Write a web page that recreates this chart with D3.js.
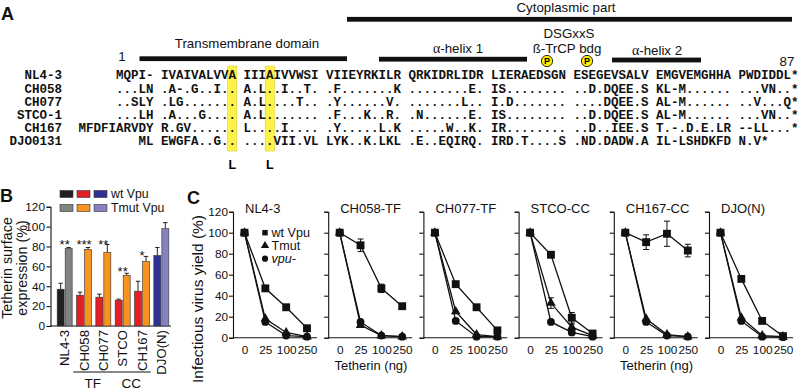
<!DOCTYPE html>
<html>
<head>
<meta charset="utf-8">
<script src="https://cdn.jsdelivr.net/npm/d3@7"></script>
<style>
  body { margin: 0; background: #fff; }
  svg { display: block; }
</style>
</head>
<body>
<svg id="fig" width="800" height="390"></svg>
<script>
/* ── Data ──────────────────────────────────────────────────── */
// Panel A: Vpu alignment, groups of 10 residues
const seqNames = ['NL4-3', 'CH058', 'CH077', 'STCO-1', 'CH167', 'DJO0131'];
const seqNL43   = ['MQPI-', 'IVAIVALVVA', 'IIIAIVVWSI', 'VIIEYRKILR', 'QRKIDRLIDR', 'LIERAEDSGN', 'ESEGEVSALV', 'EMGVEMGHHA', 'PWDIDDL*'];
const seqCH058  = ['...LN', '.A-.G..I..', 'A.L..I..T.', '.F.......K', '........E.', 'IS........', '..D.DQEE.S', 'KL-M......', '...VN..*'];
const seqCH077  = ['..SLY', '.LG.......', 'A.L....T..', '.Y......V.', '.......L..', 'I.D.......', '....DQEE.S', 'AL-M......', '..V...Q*'];
const seqSTCO1  = ['...LH', '.A...G....', 'A.L.......', '.F...K..R.', '.N......E.', 'IS........', '..D.DQEE.S', 'AL-M......', '...VN..*'];
const seqCH167  = ['MFDFIARVDY', 'R.GV......', 'L....I....', '.Y.....L.K', '.....W..K.', 'IR........', '..D..IEE.S', 'T.-.D.E.LR', '--LL...*'];
const seqDJO    = ['ML', 'EWGFA..G..', '....VII.VL', 'LYK..K.LKL', '.E..EQIRQ.', 'IRD.T....S', '.ND.DADW.A', 'IL-LSHDKFD', 'N.V*'];
const seqRows = [seqNL43, seqCH058, seqCH077, seqSTCO1, seqCH167, seqDJO];
const highlightCols = [[1, 9], [2, 3]];   // [group, residue] of the A->L sites

// Panel B: tetherin surface expression (%)
const bCats   = ['NL4-3', 'CH058', 'CH077', 'STCO', 'CH167', 'DJO(N)'];
const bWt     = [37, 31, 29, 26, 35, 71];
const bWtErr  = [6, 3, 3, 1, 10, 8];
const bTmut   = [78, 77, 74, 51, 65, 98];
const bTmutErr = [1, 2, 8, 2, 5, 6];
const bWtColor   = ['#231f20', '#e31e24', '#e31e24', '#e31e24', '#e31e24', '#2e3192'];
const bTmutColor = ['#808285', '#f7931e', '#f7931e', '#f7931e', '#f7931e', '#8682c0'];
const bStars  = ['**', '***', '**', '**', '*', ''];
const bStarAt = [85, 85, 85, 58, 74, 0];
const bTicks  = [0, 20, 40, 60, 80, 100, 120];

// Panel C: infectious virus yield (%) vs tetherin (ng)
const doses  = ['0', '25', '100', '250'];
const cPanels = ['NL4-3', 'CH058-TF', 'CH077-TF', 'STCO-CC', 'CH167-CC', 'DJO(N)'];
const wtYield = [
  [100, 47, 29, 9], [100, 88, 47, 30], [100, 51, 29, 7],
  [100, 79, 19, 4], [100, 91, 99, 83], [100, 56, 16, 1.5]];
const wtErr = [
  [0, 1, 1, 1], [0, 6, 4, 1], [0, 1, 1, 1],
  [0, 1, 5, 1], [0, 7, 12, 6], [0, 1, 1, 0.5]];
const tmutYield = [
  [100, 18, 5, 1], [100, 12, 2, 1], [100, 25, 3, 1],
  [100, 33, 10, 2], [100, 18, 3, 1], [100, 19, 2, 1]];
const tmutErr = [
  [0, 2, 1, 0.5], [0, 1, 0.5, 0.5], [0, 2, 1, 0.5],
  [0, 5, 3, 1], [0, 1, 1, 0.5], [0, 1, 0.5, 0.5]];
const vpuYield = [
  [100, 15, 2, 1], [100, 15, 2, 1], [100, 16, 1, 1],
  [100, 15, 5, 1], [100, 15, 2, 1], [100, 16, 1, 0.5]];
const cTicks = [0, 20, 40, 60, 80, 100, 120];

/* ── Setup ─────────────────────────────────────────────────── */
const SANS = '"Liberation Sans", Arial, sans-serif';
const MONO = '"Liberation Mono", "Courier New", monospace';
const svg = d3.select('#fig');

function label(x, y, txt, size, opts = {}) {
  return svg.append('text')
    .attr('x', x).attr('y', y)
    .attr('font-family', opts.family || SANS)
    .attr('font-size', size)
    .attr('font-weight', opts.weight || 'normal')
    .attr('text-anchor', opts.anchor || 'start')
    .attr('fill', '#111')
    .text(txt);
}

/* ── Panel A ───────────────────────────────────────────────── */
label(1, 20, 'A', 18, { weight: 'bold' });

const CW = 7.5;
const colX = d3.scaleLinear().domain([0, 1]).range([161 - 11 * CW, 161 - 10 * CW]);
const rowY = d3.scaleLinear().domain([0, 1]).range([75, 88.2]);

// domain bars
const bars = [[347, 792, 19.3], [139.5, 347, 58.7], [379, 527, 59.2], [612, 701, 60]];
svg.append('g').selectAll('rect').data(bars).join('rect')
  .attr('x', d => d[0]).attr('width', d => d[1] - d[0])
  .attr('y', d => d[2] - 2.4).attr('height', 4.8)
  .attr('fill', '#111');

const AF = 13.3;
label(566, 11.5, 'Cytoplasmic part', AF, { anchor: 'middle' });
label(247, 48, 'Transmembrane domain', AF, { anchor: 'middle' });
label(122, 61, '1', AF, { anchor: 'middle' });
label(787, 66, '87', AF, { anchor: 'middle' });
label(569, 38, 'DSGxxS', AF, { anchor: 'middle' });
label(567, 53, 'ß-TrCP bdg', AF, { anchor: 'middle' });

function helix(x, y, n) {
  const t = label(x, y, '', AF, { anchor: 'middle' });
  t.append('tspan').attr('font-family', '"Liberation Serif", "DejaVu Serif", serif').attr('font-size', 14).text('α');
  t.append('tspan').text('-helix ' + n);
}
helix(458, 53, 1);
helix(657, 55, 2);

// phosphoserines
const pSites = [547, 587];
const pg = svg.append('g').selectAll('g').data(pSites).join('g')
  .attr('transform', d => `translate(${d},61)`);
pg.append('circle').attr('r', 5.6).attr('fill', '#fff200').attr('stroke', '#111').attr('stroke-width', 0.9);
pg.append('text').attr('y', 3.3).attr('text-anchor', 'middle')
  .attr('font-family', SANS).attr('font-size', 9).attr('font-weight', 'bold').text('P');

// highlight columns
svg.append('g').selectAll('rect').data(highlightCols).join('rect')
  .attr('x', d => colX(d[0] * 11 + d[1]) - 0.8)
  .attr('width', CW + 1.6)
  .attr('y', 66).attr('height', 85)
  .attr('fill', '#fff34a').attr('stroke', '#d8cf2a').attr('stroke-width', 0.6);
svg.append('g').selectAll('text').data(highlightCols).join('text')
  .attr('x', d => colX(d[0] * 11 + d[1]) + CW / 2)
  .attr('y', 168.5).attr('text-anchor', 'middle')
  .attr('font-family', SANS).attr('font-size', 12.5).attr('font-weight', 'bold')
  .text('L');

// names and residues
const seqG = svg.append('g')
  .attr('font-family', MONO).attr('font-size', 12.5).attr('font-weight', 'bold').attr('fill', '#111');
seqG.selectAll('text.name').data(seqNames).join('text')
  .attr('class', 'name')
  .attr('x', 62).attr('y', (d, i) => rowY(i) + 4.4)
  .attr('text-anchor', 'end').text(d => d);
seqRows.forEach((row, i) => {
  seqG.append('g').selectAll('text').data(row).join('text')
    .attr('x', (d, g) => g === 0 ? colX(10) : colX(g * 11))
    .attr('text-anchor', (d, g) => g === 0 ? 'end' : 'start')
    .attr('y', rowY(i) + 4.4)
    .text(d => d);
});

/* ── Panel B ───────────────────────────────────────────────── */
label(0, 202, 'B', 18, { weight: 'bold' });

const xB = d3.scaleBand().domain(bCats).range([55, 171]);
const yB = d3.scaleLinear().domain([0, 120]).range([326, 206.7]);
const BW = 7;
const BX0 = 50.5;

const gB = svg.append('g');
gB.append('g')
  .attr('transform', `translate(${BX0},0)`)
  .call(d3.axisLeft(yB).tickValues(bTicks).tickSize(4).tickPadding(1.5))
  .call(g => g.selectAll('text').attr('font-family', SANS).attr('font-size', 11.8).attr('fill', '#111'))
  .call(g => g.selectAll('path,line').attr('stroke', '#111').attr('stroke-width', 1.1));
gB.append('line').attr('x1', BX0).attr('x2', 171).attr('y1', yB(0)).attr('y2', yB(0))
  .attr('stroke', '#111').attr('stroke-width', 1.1);

const bSeries = [
  { vals: bWt, err: bWtErr, col: bWtColor, dx: -BW - 0.5 },
  { vals: bTmut, err: bTmutErr, col: bTmutColor, dx: 0.5 }
];
bSeries.forEach(s => {
  const cx = (d, i) => xB(bCats[i]) + xB.bandwidth() / 2 + s.dx + BW / 2;
  gB.append('g').selectAll('line').data(s.vals).join('line')
    .attr('x1', cx).attr('x2', cx)
    .attr('y1', d => yB(d)).attr('y2', (d, i) => yB(d + s.err[i]))
    .attr('stroke', '#222').attr('stroke-width', 1);
  gB.append('g').selectAll('line').data(s.vals).join('line')
    .attr('x1', (d, i) => cx(d, i) - 2.2).attr('x2', (d, i) => cx(d, i) + 2.2)
    .attr('y1', (d, i) => yB(d + s.err[i])).attr('y2', (d, i) => yB(d + s.err[i]))
    .attr('stroke', '#222').attr('stroke-width', 1);
  gB.append('g').selectAll('rect').data(s.vals).join('rect')
    .attr('x', (d, i) => xB(bCats[i]) + xB.bandwidth() / 2 + s.dx)
    .attr('width', BW)
    .attr('y', d => yB(d)).attr('height', d => yB(0) - yB(d))
    .attr('fill', (d, i) => s.col[i])
    .attr('stroke', '#333').attr('stroke-width', 0.6);
});

gB.append('g').selectAll('text').data(bStars).join('text')
  .attr('x', (d, i) => xB(bCats[i]) + xB.bandwidth() / 2)
  .attr('y', (d, i) => yB(bStarAt[i]) + 8)
  .attr('text-anchor', 'middle')
  .attr('font-family', SANS).attr('font-size', 13).attr('fill', '#111')
  .text(d => d);

// category labels
gB.append('g').selectAll('text').data(bCats).join('text')
  .attr('transform', d => `translate(${xB(d) + xB.bandwidth() / 2 + 4.6},${yB(0) + 4}) rotate(-90)`)
  .attr('text-anchor', 'end')
  .attr('font-family', SANS).attr('font-size', 13.2).attr('fill', '#111')
  .text(d => d);

const bGroups = [['TF', 'CH058', 'CH077'], ['CC', 'STCO', 'CH167']];
bGroups.forEach(([name, a, b]) => {
  const x1 = xB(a) - 1, x2 = xB(b) + xB.bandwidth() - 1;
  gB.append('line').attr('x1', x1).attr('x2', x2).attr('y1', 372).attr('y2', 372)
    .attr('stroke', '#111').attr('stroke-width', 1);
  label((x1 + x2) / 2, 388, name, 13.5, { anchor: 'middle' });
});

// legend
const legRows = [['wt Vpu', [bWtColor[0], bWtColor[1], bWtColor[5]]],
                 ['Tmut Vpu', [bTmutColor[0], bTmutColor[1], bTmutColor[5]]]];
legRows.forEach(([name, cols], r) => {
  const y = 194 + r * 14;
  svg.append('g').selectAll('rect').data(cols).join('rect')
    .attr('x', (d, i) => 60 + i * 17).attr('y', y - 3.5)
    .attr('width', 13).attr('height', 7)
    .attr('fill', d => d).attr('stroke', '#333').attr('stroke-width', 0.6);
  label(111, y + 4.4, name, 12.3);
});

// y title
const bt = svg.append('text')
  .attr('transform', 'translate(0,268) rotate(-90)')
  .attr('text-anchor', 'middle')
  .attr('font-family', SANS).attr('font-size', 14.3).attr('fill', '#111');
bt.append('tspan').attr('x', 0).attr('y', 12).text('Tetherin surface');
bt.append('tspan').attr('x', 0).attr('y', 27).text('expression (%)');

/* ── Panel C ───────────────────────────────────────────────── */
label(187, 204, 'C', 18, { weight: 'bold' });

const yC = d3.scaleLinear().domain([0, 120]).range([337.7, 211.7]);
const symSquare = d3.symbol().type(d3.symbolSquare).size(62);
const symTri = d3.symbol().type(d3.symbolTriangle).size(40);
const symCircle = d3.symbol().type(d3.symbolCircle).size(48);

cPanels.forEach((title, p) => {
  const x0 = 233 + p * 95.2;
  const xC = d3.scalePoint().domain(doses).range([x0 + 11.5, x0 + 74]);
  const g = svg.append('g');

  g.append('g')
    .attr('transform', `translate(${x0},0)`)
    .call(d3.axisLeft(yC).tickValues(cTicks).tickSize(4).tickPadding(1)
      .tickFormat(p === 0 ? d3.format('d') : () => ''))
    .call(a => a.selectAll('text').attr('font-family', SANS).attr('font-size', 11.8).attr('fill', '#111'))
    .call(a => a.selectAll('path,line').attr('stroke', '#111').attr('stroke-width', 1.1));
  g.append('g')
    .attr('transform', `translate(0,${yC(0)})`)
    .call(d3.axisBottom(xC).tickSize(0).tickPadding(8))
    .call(a => a.select('.domain').attr('d', `M${x0},0H${x0 + 84}`).attr('stroke', '#111').attr('stroke-width', 1.1))
    .call(a => a.selectAll('text').attr('font-family', SANS).attr('font-size', 11.8).attr('fill', '#111'));

  label(x0 + 12, 213, title, 13);

  const series = [
    { vals: vpuYield[p], err: null, sym: symCircle },
    { vals: tmutYield[p], err: tmutErr[p], sym: symTri },
    { vals: wtYield[p], err: wtErr[p], sym: symSquare }
  ];
  const line = d3.line().x((d, i) => xC(doses[i])).y(d => yC(d));
  series.forEach(s => {
    g.append('path').datum(s.vals).attr('d', line)
      .attr('fill', 'none').attr('stroke', '#111').attr('stroke-width', 1.3);
    if (s.err) {
      const pts = s.vals.map((v, i) => ({ x: xC(doses[i]), v, e: s.err[i] })).filter(d => d.e > 2);
      const eb = g.append('g').selectAll('g').data(pts).join('g');
      eb.append('line')
        .attr('x1', d => d.x).attr('x2', d => d.x)
        .attr('y1', d => yC(d.v - d.e)).attr('y2', d => yC(d.v + d.e))
        .attr('stroke', '#111').attr('stroke-width', 1);
      [-1, 1].forEach(sg => {
        eb.append('line')
          .attr('x1', d => d.x - 3).attr('x2', d => d.x + 3)
          .attr('y1', d => yC(d.v + sg * d.e)).attr('y2', d => yC(d.v + sg * d.e))
          .attr('stroke', '#111').attr('stroke-width', 1);
      });
    }
    g.append('g').selectAll('path').data(s.vals).join('path')
      .attr('transform', (d, i) => `translate(${xC(doses[i])},${yC(d)})`)
      .attr('d', s.sym()).attr('fill', '#111');
  });

  if (p === 1 || p === 4) {
    label((xC('0') + xC('250')) / 2, 370, 'Tetherin (ng)', 13, { anchor: 'middle' });
  }
});

// legend in first panel
const cLeg = [['wt Vpu', symSquare, false], ['Tmut', symTri, false], ['vpu-', symCircle, true]];
cLeg.forEach(([name, sym, ital], i) => {
  const y = 232.7 + i * 13;
  svg.append('path').attr('transform', `translate(265,${y})`).attr('d', sym.size(30)()).attr('fill', '#111');
  label(271.5, y + 4.5, name, 12.6).attr('font-style', ital ? 'italic' : 'normal');
});

svg.append('text')
  .attr('transform', 'translate(202.5,299) rotate(-90)')
  .attr('text-anchor', 'middle')
  .attr('font-family', SANS).attr('font-size', 15.5).attr('fill', '#111')
  .text('Infectious virus yield (%)');
</script>
</body>
</html>
